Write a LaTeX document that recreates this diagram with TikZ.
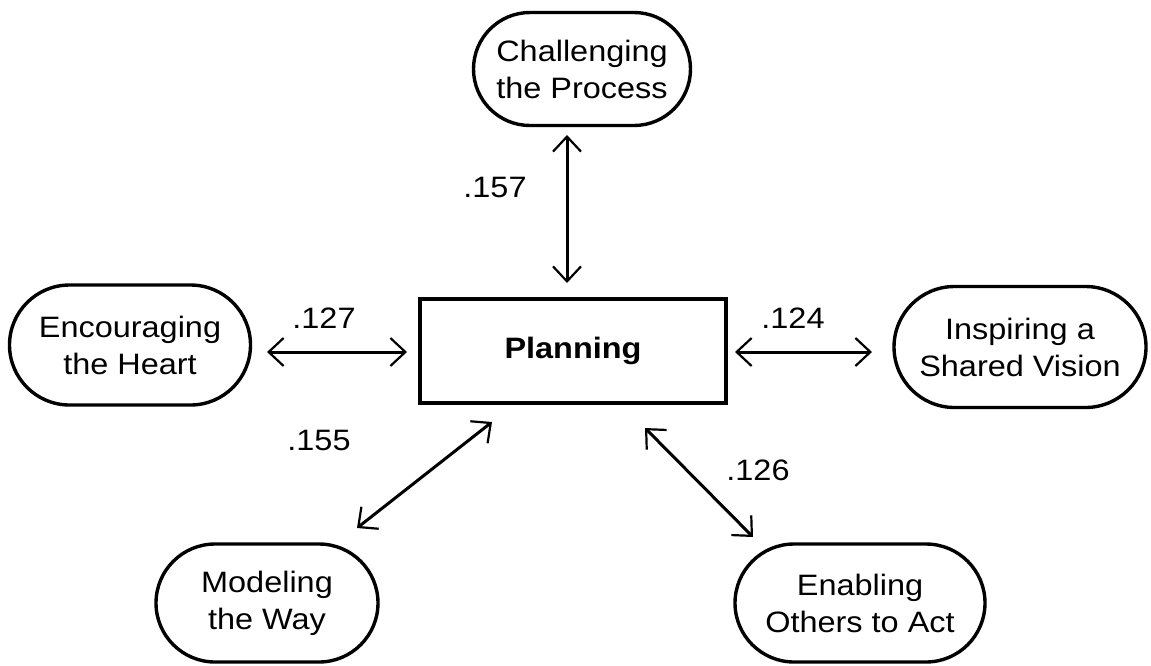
\documentclass[tikz,border=0pt]{standalone}
\usepackage{fontspec}
\setmainfont{Liberation Sans}[FakeStretch=1.1]
\usetikzlibrary{arrows.meta,shapes.misc}

\begin{document}
\begin{tikzpicture}[x=1pt,y=-1pt,
  every node/.style={font=\fontsize{29.5}{37}\selectfont},
  factor/.style={rounded rectangle, draw, line width=3.4pt, align=center,
    inner sep=0pt},
  core/.style={rectangle, draw, line width=4pt, minimum width=306pt,
    minimum height=104pt, font=\fontsize{29.5}{37}\selectfont\bfseries},
  tip/.style={Straight Barb[length=15pt,width=28pt,line width=2.2pt]},
  link/.style={line width=3pt, {Straight Barb[length=15pt,width=28pt,line width=2.2pt]}-{Straight Barb[length=15pt,width=28pt,line width=2.2pt]}},
  coef/.style={inner sep=0pt}]
  \useasboundingbox (0,0) rectangle (1151,665);

  % central construct
  \node[core] (plan) at (573,351) {Planning};

  % the five leadership practices
  \node[factor, minimum width=217pt, minimum height=113pt] (cp) at (582,69)
    {Challenging\\the Process};
  \node[factor, minimum width=241pt, minimum height=120pt] (eh) at (130,345)
    {Encouraging\\the Heart};
  \node[factor, minimum width=252pt, minimum height=121pt] (sv) at (1020,347)
    {Inspiring a\\Shared Vision};
  \node[factor, minimum width=222pt, minimum height=118pt] (mw) at (267,603)
    {Modeling\\the Way};
  \node[factor, minimum width=250pt, minimum height=118pt] (ea) at (860,603)
    {Enabling\\Others to Act};

  % connector end points
  \coordinate (cpA) at (567,135);  \coordinate (cpB) at (567,283);
  \coordinate (ehA) at (267,352);  \coordinate (ehB) at (407,352);
  \coordinate (svA) at (735,352);  \coordinate (svB) at (872,352);
  \coordinate (mwA) at (492,422);  \coordinate (mwB) at (357,528);
  \coordinate (eaA) at (645,428);  \coordinate (eaB) at (753,537);

  \draw[link] (cpA) -- (cpB);
  \draw[link] (ehA) -- (ehB);
  \draw[link] (svA) -- (svB);
  \draw[link] (mwA) -- (mwB);
  \draw[link] (eaA) -- (eaB);

  % correlation coefficients
  \node[coef] (c1) at (495,187) {.157};
  \node[coef] (c2) at (324,318) {.127};
  \node[coef] (c3) at (793,318) {.124};
  \node[coef] (c4) at (319,440) {.155};
  \node[coef] (c5) at (758,470) {.126};
\end{tikzpicture}
\end{document}
